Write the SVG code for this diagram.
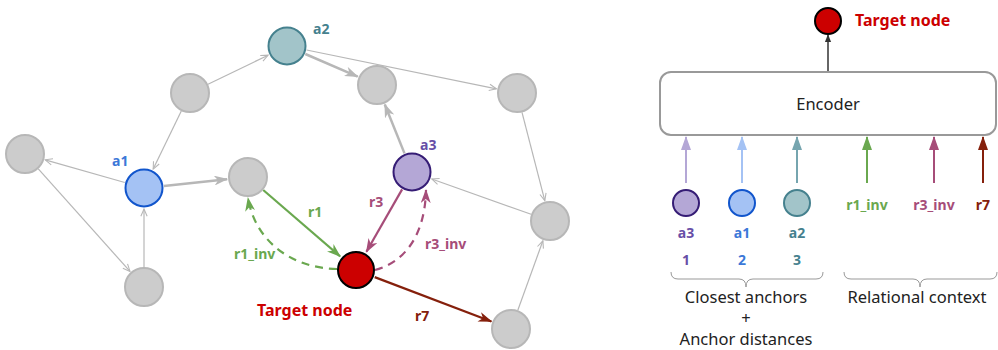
<svg xmlns="http://www.w3.org/2000/svg" width="998" height="350" viewBox="0 0 998 350">
<style>
.g{fill:#cccccc;stroke:#b7b7b7;stroke-width:2}
.thin{stroke:#b7b7b7;stroke-width:1.2;fill:none}
.thick{stroke:#b7b7b7;stroke-width:2.5;fill:none}
.lbl{font-family:"Noto Sans","DejaVu Sans",sans-serif;font-weight:bold;font-size:14px}
.big{font-size:16px}
.txt{font-family:"Noto Sans","DejaVu Sans",sans-serif;font-size:16.5px;fill:#222}
</style>
<defs>
<marker id="mThin" markerUnits="userSpaceOnUse" viewBox="0 0 10 10" refX="9" refY="5" markerWidth="9" markerHeight="9" orient="auto"><path d="M1,1.5 L9,5 L1,8.5" fill="none" stroke="#b7b7b7" stroke-width="1.2"/></marker>
<marker id="mThick" markerUnits="userSpaceOnUse" viewBox="0 0 14 10" refX="13" refY="5" markerWidth="14" markerHeight="10" orient="auto"><path d="M0,0 L14,5 L0,10 L4,5 z" fill="#b7b7b7"/></marker>
<marker id="mGreen" markerUnits="userSpaceOnUse" viewBox="0 0 14 10" refX="13" refY="5" markerWidth="14" markerHeight="10" orient="auto"><path d="M0,0 L14,5 L0,10 L4,5 z" fill="#6aa84f"/></marker>
<marker id="mPurple" markerUnits="userSpaceOnUse" viewBox="0 0 14 10" refX="13" refY="5" markerWidth="14" markerHeight="10" orient="auto"><path d="M0,0 L14,5 L0,10 L4,5 z" fill="#a64d79"/></marker>
<marker id="mRed" markerUnits="userSpaceOnUse" viewBox="0 0 14 10" refX="13" refY="5" markerWidth="14" markerHeight="10" orient="auto"><path d="M0,0 L14,5 L0,10 L4,5 z" fill="#85200c"/></marker>
<marker id="mBlack" markerUnits="userSpaceOnUse" viewBox="0 0 10 8" refX="9" refY="4" markerWidth="8" markerHeight="7" orient="auto"><path d="M0,0 L10,4 L0,8 z" fill="#333"/></marker>
<marker id="uA3" markerUnits="userSpaceOnUse" viewBox="0 0 14 10" refX="13" refY="5" markerWidth="14" markerHeight="10" orient="auto"><path d="M0,0 L14,5 L0,10 z" fill="#b4a7d6"/></marker>
<marker id="uA1" markerUnits="userSpaceOnUse" viewBox="0 0 14 10" refX="13" refY="5" markerWidth="14" markerHeight="10" orient="auto"><path d="M0,0 L14,5 L0,10 z" fill="#a4c2f4"/></marker>
<marker id="uA2" markerUnits="userSpaceOnUse" viewBox="0 0 14 10" refX="13" refY="5" markerWidth="14" markerHeight="10" orient="auto"><path d="M0,0 L14,5 L0,10 z" fill="#76a5af"/></marker>
<marker id="uR1" markerUnits="userSpaceOnUse" viewBox="0 0 14 10" refX="13" refY="5" markerWidth="14" markerHeight="10" orient="auto"><path d="M0,0 L14,5 L0,10 z" fill="#6aa84f"/></marker>
<marker id="uR3" markerUnits="userSpaceOnUse" viewBox="0 0 14 10" refX="13" refY="5" markerWidth="14" markerHeight="10" orient="auto"><path d="M0,0 L14,5 L0,10 z" fill="#a64d79"/></marker>
<marker id="uR7" markerUnits="userSpaceOnUse" viewBox="0 0 14 10" refX="13" refY="5" markerWidth="14" markerHeight="10" orient="auto"><path d="M0,0 L14,5 L0,10 z" fill="#85200c"/></marker>
</defs>

<g id="connectors">
<line class="thin" x1="208" y1="84.3" x2="268.1" y2="55.2" marker-end="url(#mThin)"/>
<line class="thin" x1="181.3" y1="111" x2="153.2" y2="169.1" marker-end="url(#mThin)"/>
<line class="thin" x1="124.8" y1="182.5" x2="45.2" y2="159.8" marker-end="url(#mThin)"/>
<line class="thin" x1="38.3" y1="168.9" x2="130" y2="271.4" marker-end="url(#mThin)"/>
<line class="thin" x1="144" y1="267" x2="144" y2="209" marker-end="url(#mThin)"/>
<line class="thick" x1="163.9" y1="185.9" x2="227.1" y2="179.2" marker-end="url(#mThick)"/>
<line class="thick" x1="305.3" y1="54" x2="357.7" y2="76.6" marker-end="url(#mThick)"/>
<line class="thin" x1="306.6" y1="50" x2="496.4" y2="88.8" marker-end="url(#mThin)"/>
<line class="thick" x1="404.5" y1="153.4" x2="384.8" y2="104.5" marker-end="url(#mThick)"/>
<line class="thin" x1="522" y1="112.4" x2="544.8" y2="200.7" marker-end="url(#mThin)"/>
<line class="thin" x1="531.1" y1="214.3" x2="431.8" y2="179" marker-end="url(#mThin)"/>
<line class="thin" x1="517.8" y1="310.2" x2="542.9" y2="240.8" marker-end="url(#mThin)"/>
<line x1="263.2" y1="190" x2="340.1" y2="256.3" stroke="#6aa84f" stroke-width="2.2" marker-end="url(#mGreen)"/>
<path d="M337,269 C290,268 255,240 248,198" fill="none" stroke="#6aa84f" stroke-width="2.2" stroke-dasharray="8,6" marker-end="url(#mGreen)"/>
<line x1="402.1" y1="189.4" x2="366.4" y2="251.8" stroke="#a64d79" stroke-width="2.2" marker-end="url(#mPurple)"/>
<path d="M375,270 C405,262 425,235 426,190" fill="none" stroke="#a64d79" stroke-width="2.2" stroke-dasharray="8,6" marker-end="url(#mPurple)"/>
<line x1="374.7" y1="277.1" x2="491.4" y2="321.5" stroke="#85200c" stroke-width="2.2" marker-end="url(#mRed)"/>
<line x1="828" y1="71" x2="828" y2="35" stroke="#333" stroke-width="1.5" marker-end="url(#mBlack)"/>
<line x1="686" y1="183" x2="686" y2="137" stroke="#b4a7d6" stroke-width="2" marker-end="url(#uA3)"/>
<line x1="742" y1="183" x2="742" y2="137" stroke="#a4c2f4" stroke-width="2" marker-end="url(#uA1)"/>
<line x1="797" y1="183" x2="797" y2="137" stroke="#76a5af" stroke-width="2" marker-end="url(#uA2)"/>
<line x1="867" y1="183" x2="867" y2="137" stroke="#6aa84f" stroke-width="2" marker-end="url(#uR1)"/>
<line x1="934" y1="183" x2="934" y2="137" stroke="#a64d79" stroke-width="2" marker-end="url(#uR3)"/>
<line x1="983" y1="183" x2="983" y2="137" stroke="#85200c" stroke-width="2" marker-end="url(#uR7)"/>
</g>

<g id="n-left"><circle class="g" cx="25" cy="154" r="19"/></g>
<g id="n-topleft"><circle class="g" cx="190" cy="93" r="19"/></g>
<g id="n-topmid"><circle class="g" cx="377" cy="85" r="19"/></g>
<g id="n-topright"><circle class="g" cx="517" cy="93" r="19"/></g>
<g id="n-mid"><circle class="g" cx="248" cy="177" r="19"/></g>
<g id="n-rightmid"><circle class="g" cx="550" cy="221" r="19"/></g>
<g id="n-bottomleft"><circle class="g" cx="144" cy="287" r="19"/></g>
<g id="n-bottomright"><circle class="g" cx="511" cy="329" r="19"/></g>
<g id="a2"><circle cx="287" cy="46" r="18.5" fill="#a2c4c9" stroke="#45818e" stroke-width="2"/><text class="lbl" x="313" y="34" fill="#45818e">a2</text></g>
<g id="a1"><circle cx="144" cy="188" r="18.5" fill="#a4c2f4" stroke="#1155cc" stroke-width="2"/><text class="lbl" x="112" y="166" fill="#3c78d8">a1</text></g>
<g id="a3"><circle cx="412" cy="172" r="18.5" fill="#b4a7d6" stroke="#351c75" stroke-width="2"/><text class="lbl" x="420" y="150" fill="#674ea7">a3</text></g>
<g id="target"><circle cx="356" cy="270" r="18" fill="#cc0000" stroke="#000" stroke-width="2"/><text class="lbl big" x="257" y="316" fill="#cc0000">Target node</text></g>

<g id="edge-labels">
<text class="lbl" x="308" y="217" fill="#6aa84f">r1</text>
<text class="lbl" x="234" y="259" fill="#6aa84f">r1_inv</text>
<text class="lbl" x="369" y="207" fill="#a64d79">r3</text>
<text class="lbl" x="425" y="249" fill="#a64d79">r3_inv</text>
<text class="lbl" x="415" y="321" fill="#85200c">r7</text>
</g>

<g id="target-out"><circle cx="828" cy="21" r="13" fill="#cc0000" stroke="#000" stroke-width="2"/><text class="lbl big" x="855" y="26" fill="#cc0000">Target node</text></g>
<g id="encoder"><rect x="660" y="72" width="336" height="63" rx="11" fill="#fff" stroke="#999" stroke-width="2"/><text class="txt" x="828" y="110" text-anchor="middle">Encoder</text></g>

<g id="in-a3"><circle cx="686" cy="203" r="13" fill="#b4a7d6" stroke="#351c75" stroke-width="2"/><text class="lbl" x="686" y="238" text-anchor="middle" fill="#674ea7">a3</text><text class="lbl" x="686" y="265" text-anchor="middle" fill="#674ea7">1</text></g>
<g id="in-a1"><circle cx="742" cy="203" r="13" fill="#a4c2f4" stroke="#1155cc" stroke-width="2"/><text class="lbl" x="742" y="238" text-anchor="middle" fill="#3c78d8">a1</text><text class="lbl" x="742" y="265" text-anchor="middle" fill="#3c78d8">2</text></g>
<g id="in-a2"><circle cx="797" cy="203" r="13" fill="#a2c4c9" stroke="#45818e" stroke-width="2"/><text class="lbl" x="797" y="238" text-anchor="middle" fill="#45818e">a2</text><text class="lbl" x="797" y="265" text-anchor="middle" fill="#45818e">3</text></g>
<g id="in-rel">
<text class="lbl" x="867" y="210" text-anchor="middle" fill="#6aa84f">r1_inv</text>
<text class="lbl" x="934" y="210" text-anchor="middle" fill="#a64d79">r3_inv</text>
<text class="lbl" x="983" y="210" text-anchor="middle" fill="#85200c">r7</text>
</g>
<g id="braces" fill="none" stroke="#999" stroke-width="1">
<path d="M671,272 Q671,279 678,279 L739,279 Q746,279 746,287 Q746,279 753,279 L816,279 Q823,279 823,272"/>
<path d="M844,272 Q844,279 851,279 L913,279 Q920,279 920,287 Q920,279 927,279 L990,279 Q997,279 997,272"/>
</g>
<g id="captions">
<text class="txt" x="746" y="303" text-anchor="middle">Closest anchors</text>
<text class="txt" x="746" y="324" text-anchor="middle">+</text>
<text class="txt" x="746" y="345" text-anchor="middle">Anchor distances</text>
<text class="txt" x="917" y="303" text-anchor="middle">Relational context</text>
</g>
</svg>
